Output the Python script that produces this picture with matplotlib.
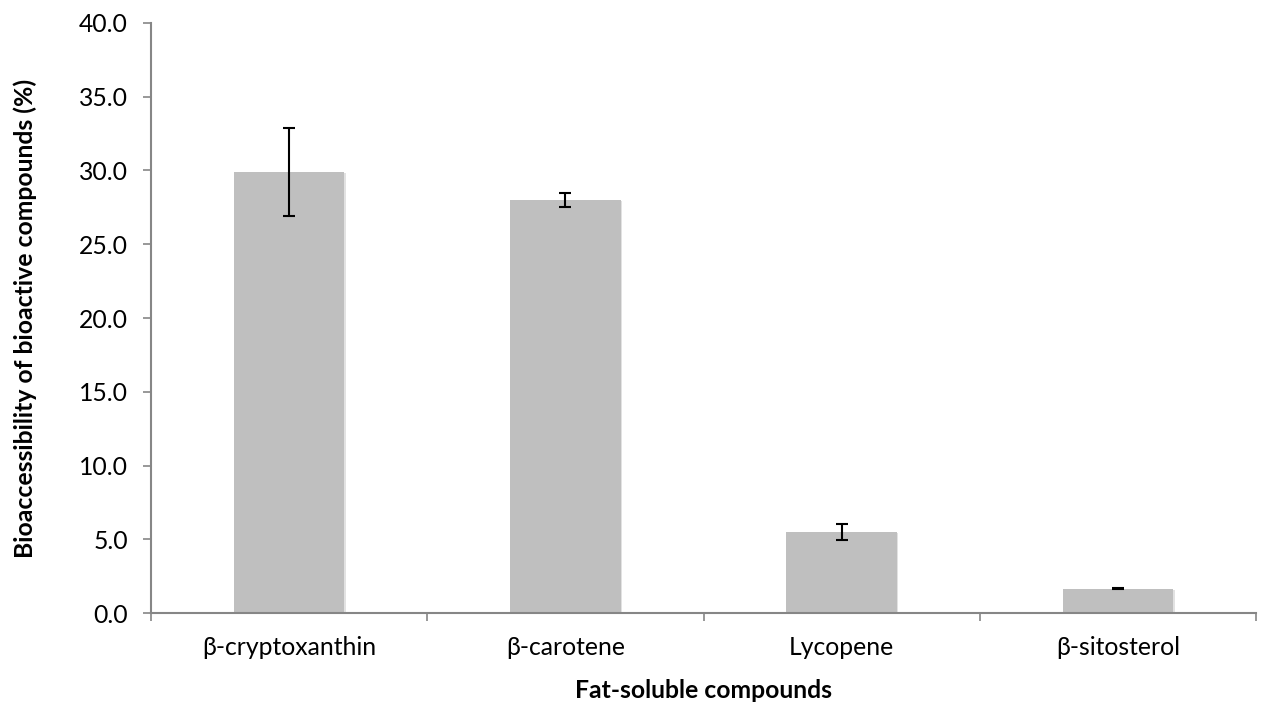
import matplotlib
matplotlib.use("Agg")
import matplotlib.pyplot as plt
import matplotlib.patheffects as pe
import numpy as np

# data
compounds = ["β-cryptoxanthin", "β-carotene", "Lycopene", "β-sitosterol"]
bioaccessibility = [29.9, 28.0, 5.5, 1.66]
std_err = [3.0, 0.5, 0.54, 0.03]
y_ticks = [0, 5, 10, 15, 20, 25, 30, 35, 40]

plt.rcParams["font.family"] = ["Lato", "DejaVu Sans"]
fs = 17.8

fig = plt.figure(figsize=(12.63, 7.06), dpi=100)
ax = fig.add_axes([0.1196, 0.1313, 0.8749, 0.8365])

x = np.arange(len(compounds))
bars = ax.bar(x, bioaccessibility, width=0.4, color="#BFBFBF", zorder=2)
for b in bars:
    b.set_path_effects([pe.SimplePatchShadow(offset=(1, -1), shadow_rgbFace="#d0d0d0", alpha=0.6),
                        pe.Normal()])
ax.errorbar(x, bioaccessibility, yerr=std_err, fmt="none", ecolor="black",
            elinewidth=1.5, capsize=4, capthick=1.5, zorder=3)

ax.set_xlim(-0.5, len(compounds) - 0.5)
ax.set_ylim(0, 40)
ax.set_yticks(y_ticks)
ax.set_yticklabels([f"{v:.1f}" for v in y_ticks], fontsize=fs)

# category boundary ticks, labels in between
ax.set_xticks(np.arange(-0.5, len(compounds), 1.0))
ax.set_xticklabels([])
ax.set_xticks(x, minor=True)
ax.set_xticklabels(compounds, minor=True, fontsize=fs)
ax.tick_params(axis="x", which="minor", length=0, pad=16)
ax.tick_params(axis="x", which="major", length=5.8, color="#868686", width=1.2)
ax.tick_params(axis="y", length=5.8, color="#868686", width=1.2, pad=11)

for s in ["top", "right"]:
    ax.spines[s].set_visible(False)
for s in ["left", "bottom"]:
    ax.spines[s].set_color("#868686")
    ax.spines[s].set_linewidth(1.5)

ax.set_xlabel("Fat-soluble compounds", fontsize=fs, fontweight="bold", va="center")
ax.xaxis.set_label_coords(0.5, -0.1299)
ax.set_ylabel("Bioaccessibility of bioactive compounds (%)", fontsize=fs,
              fontweight="bold", va="center", ha="center")
ax.yaxis.set_label_coords(-0.114, 0.5)

fig.savefig("out.png", dpi=100)
